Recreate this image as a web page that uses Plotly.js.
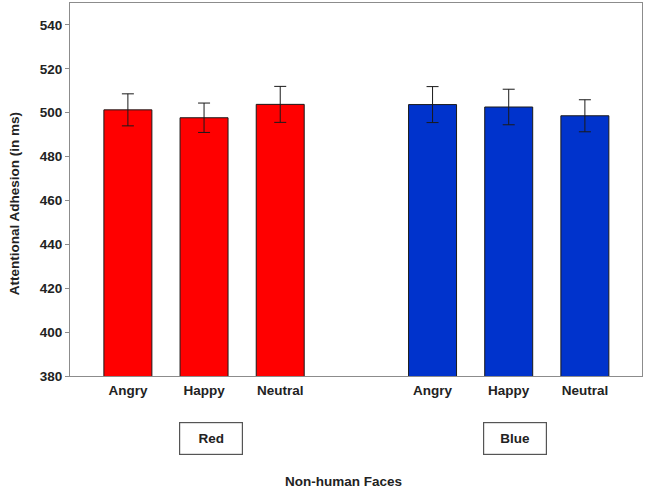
<!DOCTYPE html>
<html>
<head>
<meta charset="utf-8">
<script src="https://cdn.plot.ly/plotly-3.0.1.min.js"></script>
<style>html,body{margin:0;padding:0;background:#fff;}#chart{width:646px;height:490px;}</style>
</head>
<body>
<div id="chart"></div>
<script>
var categories = ["Angry", "Happy", "Neutral"];
var groups = ["Red", "Blue"];
var redValues = [501.3, 497.7, 503.8];
var redErrors = [7.3, 6.7, 8.2];
var blueValues = [503.7, 502.6, 498.6];
var blueErrors = [8.2, 8.1, 7.3];
var yTicks = [380, 400, 420, 440, 460, 480, 500, 520, 540];
var xTitle = "Non-human Faces";
var yTitle = "Attentional Adhesion (in ms)";

var FONT = "Arial, 'Liberation Sans', sans-serif";
var redX = categories.map(function (c, i) { return i; });
var blueX = categories.map(function (c, i) { return i + 4; });

function barTrace(xs, ys, errs, color, name) {
  return {
    type: "bar",
    x: xs,
    y: ys,
    name: name,
    width: 0.63,
    marker: { color: color, line: { color: "#1a1a1a", width: 1 } },
    error_y: { type: "data", array: errs, visible: true, color: "#1a1a1a", thickness: 1, width: 6 },
    hoverinfo: "skip"
  };
}

var data = [
  barTrace(redX, redValues, redErrors, "#FF0000", groups[0]),
  barTrace(blueX, blueValues, blueErrors, "#0033CC", groups[1])
];

var boldFont = function (size) { return { family: FONT, size: size, color: "#222", weight: "bold" }; };

var layout = {
  width: 646,
  height: 490,
  margin: { l: 70, r: 4, t: 3, b: 114 },
  paper_bgcolor: "#ffffff",
  plot_bgcolor: "#ffffff",
  showlegend: false,
  font: { family: FONT, color: "#222" },
  xaxis: {
    range: [-0.76, 6.75],
    tickvals: redX.concat(blueX),
    ticktext: categories.concat(categories),
    ticks: "",
    ticklabelstandoff: 2,
    showgrid: false,
    zeroline: false,
    showline: true,
    mirror: true,
    linecolor: "#8c8c8c",
    linewidth: 1,
    tickfont: boldFont(13.5),
    fixedrange: true
  },
  yaxis: {
    range: [380, 550],
    tickvals: yTicks,
    ticks: "outside",
    ticklen: 4,
    tickcolor: "#8c8c8c",
    showgrid: false,
    zeroline: false,
    showline: true,
    mirror: true,
    linecolor: "#8c8c8c",
    linewidth: 1,
    tickfont: boldFont(13.5),
    fixedrange: true
  },
  annotations: [
    {
      xref: "paper", yref: "paper", x: -0.098, y: 0.463,
      xanchor: "center", yanchor: "middle", textangle: -90,
      text: yTitle, showarrow: false, font: boldFont(13.5)
    },
    {
      xref: "paper", yref: "paper", x: 0.2466, y: -0.167,
      xanchor: "center", yanchor: "middle",
      text: groups[0], showarrow: false, font: boldFont(13.5),
      bordercolor: "#555", borderwidth: 1.2, borderpad: 1,
      width: 60, height: 29, bgcolor: "#fff"
    },
    {
      xref: "paper", yref: "paper", x: 0.7775, y: -0.167,
      xanchor: "center", yanchor: "middle",
      text: groups[1], showarrow: false, font: boldFont(13.5),
      bordercolor: "#555", borderwidth: 1.2, borderpad: 1,
      width: 60, height: 29, bgcolor: "#fff"
    },
    {
      xref: "paper", yref: "paper", x: 0.479, y: -0.2825,
      xanchor: "center", yanchor: "middle",
      text: xTitle, showarrow: false, font: boldFont(13.5)
    }
  ]
};

Plotly.newPlot("chart", data, layout, { displayModeBar: false, staticPlot: true });
</script>
</body>
</html>
